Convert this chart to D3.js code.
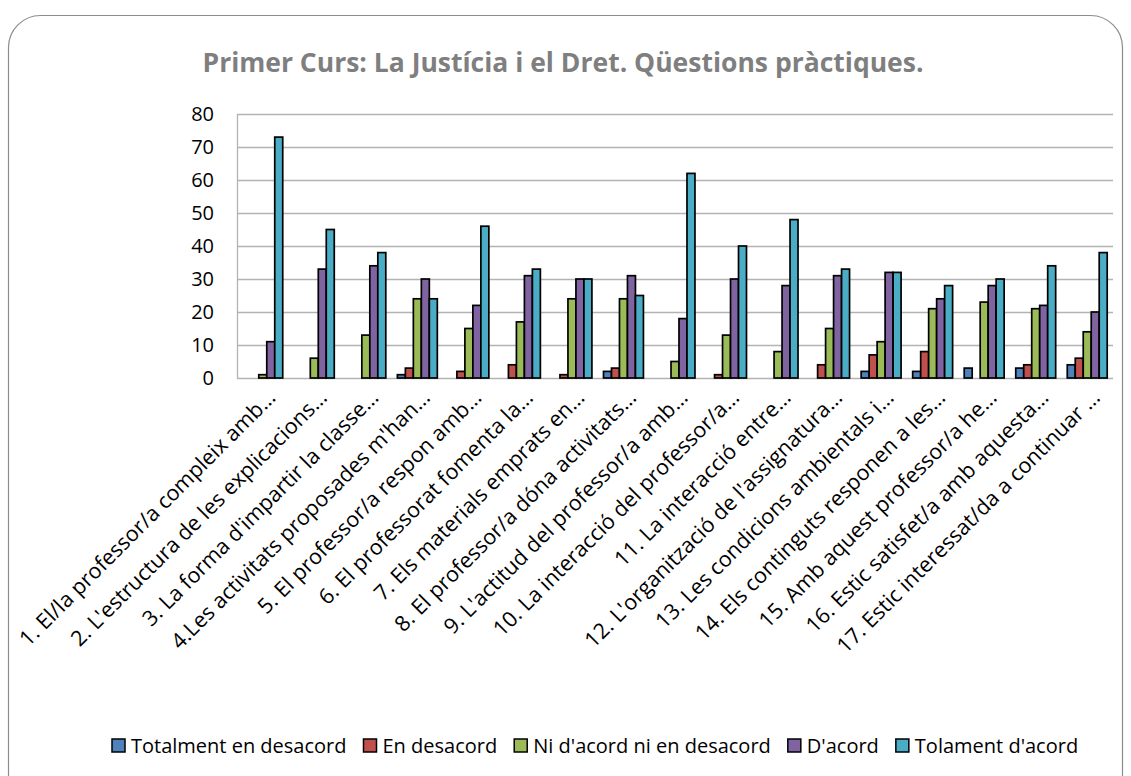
<!DOCTYPE html>
<html>
<head>
<meta charset="utf-8">
<script src="https://cdn.jsdelivr.net/npm/d3@7"></script>
<style>
  body { margin: 0; background: #fff; }
  svg text { font-family: "Open Sans", "Liberation Sans", sans-serif; }
</style>
</head>
<body>
<svg id="chart" width="1131" height="776"></svg>
<script>
// dades del gràfic
const questions = [
  "1. El/la professor/a compleix amb…",
  "2. L'estructura de les explicacions…",
  "3. La forma d'impartir la classe…",
  "4.Les activitats proposades m'han…",
  "5. El professor/a respon amb…",
  "6. El professorat fomenta la…",
  "7. Els materials emprats en…",
  "8. El professor/a dóna activitats…",
  "9. L'actitud del professor/a amb…",
  "10. La interacció del professor/a…",
  "11. La interacció entre…",
  "12. L'organització de l'assignatura…",
  "13. Les condicions ambientals i…",
  "14. Els continguts responen a les…",
  "15. Amb aquest professor/a he…",
  "16. Estic satisfet/a amb aquesta…",
  "17. Estic interessat/da a continuar …"
];
const seriesNames = ["Totalment en desacord", "En desacord", "Ni d'acord ni en desacord", "D'acord", "Tolament d'acord"];
const seriesColors = ["#4F81BD", "#C0504D", "#9BBB59", "#8064A2", "#4BACC6"];

const totalDesacord = [0, 0, 0, 1, 0, 0, 0, 2, 0, 0, 0, 0, 2, 2, 3, 3, 4];
const enDesacord    = [0, 0, 0, 3, 2, 4, 1, 3, 0, 1, 0, 4, 7, 8, 0, 4, 6];
const niNi          = [1, 6, 13, 24, 15, 17, 24, 24, 5, 13, 8, 15, 11, 21, 23, 21, 14];
const dAcord        = [11, 33, 34, 30, 22, 31, 30, 31, 18, 30, 28, 31, 32, 24, 28, 22, 20];
const totalAcord    = [73, 45, 38, 24, 46, 33, 30, 25, 62, 40, 48, 33, 32, 28, 30, 34, 38];
const yTicks = [0, 10, 20, 30, 40, 50, 60, 70, 80];

const seriesValues = [totalDesacord, enDesacord, niNi, dAcord, totalAcord];

const svg = d3.select("#chart");

// marc arrodonit
svg.append("rect")
  .attr("x", 8.5).attr("y", 15.5)
  .attr("width", 1114).attr("height", 790)
  .attr("rx", 32).attr("ry", 32)
  .attr("fill", "#fff")
  .attr("stroke", "#8c8c8c")
  .attr("stroke-width", 1.2);

// títol
svg.append("text")
  .attr("x", 563).attr("y", 72)
  .attr("text-anchor", "middle")
  .attr("font-size", 26.5)
  .attr("font-weight", "bold")
  .attr("fill", "#7f7f7f")
  .text("Primer Curs: La Justícia i el Dret. Qüestions pràctiques.");

const margin = {left: 237, right: 1113, top: 114, bottom: 378};

const x0 = d3.scaleBand()
  .domain(questions)
  .range([margin.left, margin.right])
  .paddingInner(0.225)
  .paddingOuter(0.1125);

const x1 = d3.scaleBand()
  .domain(d3.range(seriesNames.length))
  .range([0, x0.bandwidth()]);

const y = d3.scaleLinear().domain([0, 80]).range([margin.bottom, margin.top]);

// línies de la graella
svg.append("g")
  .selectAll("line")
  .data(yTicks)
  .enter().append("line")
  .attr("x1", margin.left).attr("x2", margin.right)
  .attr("y1", d => y(d) + 0.5).attr("y2", d => y(d) + 0.5)
  .attr("stroke", "#b3b3b3")
  .attr("stroke-width", 1.3);

svg.append("line")
  .attr("x1", margin.left + 0.5).attr("x2", margin.left + 0.5)
  .attr("y1", margin.top).attr("y2", margin.bottom)
  .attr("stroke", "#b3b3b3")
  .attr("stroke-width", 1.3);

// eix Y
svg.append("g")
  .selectAll("text")
  .data(yTicks)
  .enter().append("text")
  .attr("x", 214)
  .attr("y", d => y(d))
  .attr("dy", "0.35em")
  .attr("text-anchor", "end")
  .attr("font-size", 20)
  .attr("fill", "#000")
  .text(d => d);

// barres
const groups = svg.append("g")
  .selectAll("g")
  .data(questions)
  .enter().append("g")
  .attr("transform", d => `translate(${x0(d)},0)`);

groups.selectAll("rect")
  .data((q, i) => seriesValues.map((vals, s) => ({s: s, v: vals[i]})))
  .enter().filter(d => d.v > 0)
  .append("rect")
  .attr("x", d => x1(d.s))
  .attr("y", d => y(d.v))
  .attr("width", x1.bandwidth())
  .attr("height", d => y(0) - y(d.v))
  .attr("fill", d => seriesColors[d.s])
  .attr("stroke", "#000")
  .attr("stroke-width", 1.7);

// etiquetes de l'eix X
svg.append("g")
  .selectAll("text")
  .data(questions)
  .enter().append("text")
  .attr("transform", d => `translate(${x0(d) + x0.bandwidth() / 2 + 14},${399}) rotate(-45)`)
  .attr("text-anchor", "end")
  .attr("font-size", 21.5)
  .attr("fill", "#000")
  .text(d => d);

// llegenda
const legend = svg.append("g").attr("transform", "translate(0,746)");
let lx = 112;
seriesNames.forEach((name, i) => {
  const item = legend.append("g").attr("transform", `translate(${lx},0)`);
  item.append("rect")
    .attr("x", 0).attr("y", -7)
    .attr("width", 13).attr("height", 13)
    .attr("fill", seriesColors[i])
    .attr("stroke", "#000")
    .attr("stroke-width", 1.5);
  const t = item.append("text")
    .attr("x", 19).attr("y", 0)
    .attr("dy", "0.35em")
    .attr("font-size", 20)
    .attr("fill", "#000")
    .text(name);
  lx += 19 + t.node().getComputedTextLength() + 17;
});
</script>
</body>
</html>
